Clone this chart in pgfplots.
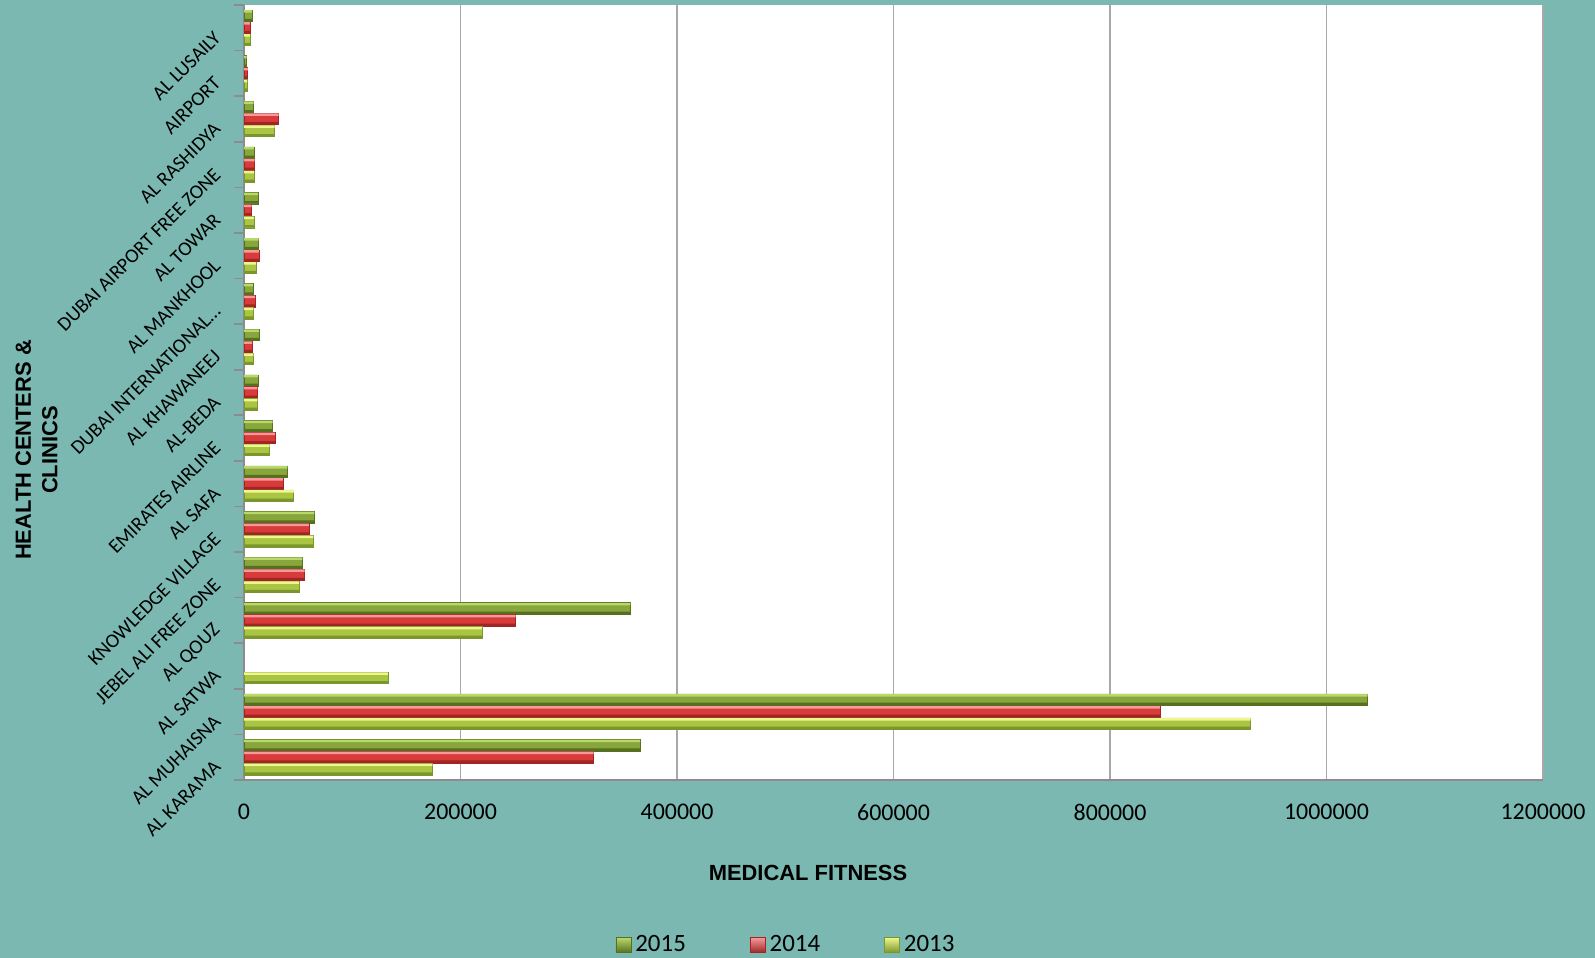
\documentclass[border=0pt]{standalone}
\usepackage{fontspec}
\setmainfont{Carlito}
\newfontfamily\arialf{Liberation Sans}
\usepackage{pgfplots}
\usepackage{pgfplotstable}
\pgfplotsset{compat=1.18}
\definecolor{bgteal}{HTML}{7AB8B1}
\definecolor{gridgray}{HTML}{A8A8A8}
\definecolor{axgray}{HTML}{8C8C8C}
% 2015
\definecolor{gA}{HTML}{B9D86A}
\definecolor{gB}{HTML}{88A63C}
\definecolor{gC}{HTML}{55701F}
% 2014
\definecolor{rA}{HTML}{F59A9A}
\definecolor{rB}{HTML}{D93A3A}
\definecolor{rC}{HTML}{A02626}
% 2013
\definecolor{yA}{HTML}{EEF68E}
\definecolor{yB}{HTML}{AAC443}
\definecolor{yC}{HTML}{7A962C}
% idx 0 = AL KARAMA ... 16 = AL LUSAILY
\pgfplotstableread{
idx v2015 v2014 v2013
0  366000  323000 174000
1  1038000 846000 930000
2  nan     nan    133000
3  357000  251000 220000
4  54000   56000  51000
5  65000   60000  64000
6  40000   36000  46000
7  26500   28500  23700
8  13000   12300  12300
9  14000   7400   8600
10 8300    10200  8600
11 13600   13700  11000
12 13000   7100   9200
13 9200    9900   9200
14 9000    32000  28400
15 2500    3500   3000
16 7400    5500   5500
}\datatable
\begin{document}
\begin{tikzpicture}
\fill[bgteal] (0bp,0bp) rectangle (797.5bp,479bp);
\begin{axis}[
  at={(122bp,89bp)}, anchor=south west,
  scale only axis, width=649.5bp, height=387.5bp,
  xbar, bar width=0.25,
  xmin=0, xmax=1200000, ymin=-0.5, ymax=16.5,
  axis background/.style={fill=white},
  axis x line*=bottom, axis y line*=left,
  axis line style={axgray, line width=0.7bp, -},
  xtick={0,200000,400000,600000,800000,1000000,1200000},
  xticklabels={0,200000,400000,600000,800000,1000000,1200000},
  scaled x ticks=false,
  xticklabel style={font=\fontsize{12}{14}\selectfont, yshift=-8.5bp},
  xmajorgrids, major grid style={gridgray, line width=0.75bp},
  ytick={0,1,2,3,4,5,6,7,8,9,10,11,12,13,14,15,16},
  yticklabels={{AL KARAMA}, {AL MUHAISNA}, {AL SATWA}, {AL QOUZ}, {JEBEL ALI FREE ZONE}, {KNOWLEDGE VILLAGE}, {AL SAFA}, {EMIRATES AIRLINE}, {AL-BEDA}, {AL KHAWANEEJ}, {DUBAI INTERNATIONAL\ldots}, {AL MANKHOOL}, {AL TOWAR}, {DUBAI AIRPORT FREE ZONE}, {AL RASHIDYA}, {AIRPORT}, {AL LUSAILY}},
  yticklabel style={rotate=45, anchor=east, font=\fontsize{10}{12}\selectfont, inner sep=1bp, xshift=-10.8bp, yshift=7bp},
  minor ytick={-0.5,0.5,1.5,2.5,3.5,4.5,5.5,6.5,7.5,8.5,9.5,10.5,11.5,12.5,13.5,14.5,15.5,16.5},
  tick align=outside,
  major tick length=0pt, minor tick length=5bp,
  minor tick style={axgray, line width=0.8bp},
  legend columns=3,
  legend style={at={(axis description cs:0.418,-0.213)}, anchor=center, draw=none, fill=none,
    font=\fontsize{12.5}{14}\selectfont, inner sep=0pt,
    /tikz/every even column/.append style={column sep=30bp}},
]
% 2015 (top of each group)
\addplot[bar shift=0.263, fill=gB, draw=gC, line width=0.3bp,
  legend image code/.code={\shade[top color=gA, bottom color=gC, draw=gC, line width=0.3bp] (0bp,-3.8bp) rectangle (7.6bp,3.8bp);}]
  table[x=v2015, y=idx] {\datatable};
\addlegendentry{2015}
\addplot[forget plot, bar shift=0.358, bar width=0.055, fill=gA, draw=none] table[x=v2015, y=idx] {\datatable};
\addplot[forget plot, bar shift=0.168, bar width=0.055, fill=gC, draw=none] table[x=v2015, y=idx] {\datatable};
% 2014 (middle)
\addplot[bar shift=0, fill=rB, draw=rC, line width=0.3bp,
  legend image code/.code={\shade[top color=rA, bottom color=rC, draw=rC, line width=0.3bp] (0bp,-3.8bp) rectangle (7.6bp,3.8bp);}]
  table[x=v2014, y=idx] {\datatable};
\addlegendentry{2014}
\addplot[forget plot, bar shift=0.095, bar width=0.055, fill=rA, draw=none] table[x=v2014, y=idx] {\datatable};
\addplot[forget plot, bar shift=-0.095, bar width=0.055, fill=rC, draw=none] table[x=v2014, y=idx] {\datatable};
% 2013 (bottom)
\addplot[bar shift=-0.263, fill=yB, draw=yC, line width=0.3bp,
  legend image code/.code={\shade[top color=yA, bottom color=yC, draw=yC, line width=0.3bp] (0bp,-3.8bp) rectangle (7.6bp,3.8bp);}]
  table[x=v2013, y=idx] {\datatable};
\addlegendentry{2013}
\addplot[forget plot, bar shift=-0.168, bar width=0.055, fill=yA, draw=none] table[x=v2013, y=idx] {\datatable};
\addplot[forget plot, bar shift=-0.358, bar width=0.055, fill=yC, draw=none] table[x=v2013, y=idx] {\datatable};
\end{axis}
\node[font=\arialf\bfseries\fontsize{11}{13}\selectfont] at (404bp,42.7bp) {MEDICAL FITNESS};
\node[rotate=90, align=center, font=\arialf\bfseries\fontsize{11}{13.2}\selectfont] at (18.3bp,254bp) {HEALTH CENTERS \&\\CLINICS};
\pgfresetboundingbox
\useasboundingbox (0bp,0bp) rectangle (797.5bp,479bp);
\end{tikzpicture}
\end{document}
